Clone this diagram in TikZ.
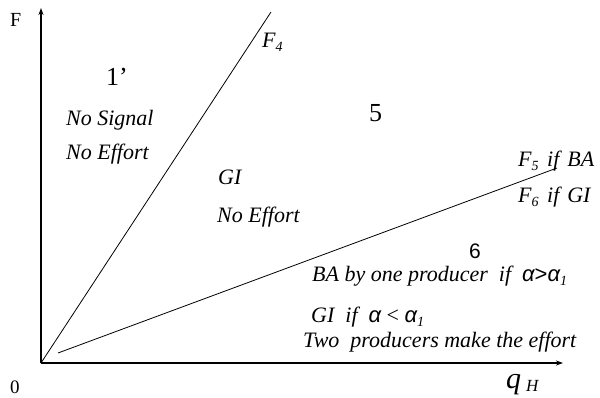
\documentclass[tikz,border=0pt]{standalone}
\usepackage{fontspec}
\setmainfont{Liberation Serif}
\newfontfamily\arial{Liberation Sans}
\usetikzlibrary{arrows.meta}
\begin{document}
\begin{tikzpicture}[x=1pt,y=-1pt,
  lbl/.style={inner sep=0pt,anchor=base west,font=\fontsize{22}{24}\selectfont\itshape},
  big/.style={inner sep=0pt,anchor=base west,font=\fontsize{26}{28}\selectfont},
  axis/.style={line width=1.8pt,-{Stealth[length=7pt,width=5pt]}},
  bound/.style={line width=0.8pt}]
\newcommand\sub[1]{\textsubscript{\fontsize{14}{16}\selectfont #1}}
\newcommand\al{{\arial\itshape α}}
\useasboundingbox (0,0) rectangle (600,398);
\coordinate (O) at (41,363);
\coordinate (ytop) at (41,8);
\coordinate (xend) at (563,363);
\coordinate (f4) at (271,12);
\coordinate (f5a) at (58,353);
\coordinate (f5b) at (557,168);
\draw[axis] (O) -- (ytop);
\draw[axis] (O) -- (xend);
\draw[bound] (O) -- (f4);
\draw[bound] (f5a) -- (f5b);
\node[inner sep=0pt,anchor=base west,font=\fontsize{20}{22}\selectfont] (Flab) at (10,27) {F};
\node[inner sep=0pt,anchor=base west,font=\fontsize{19}{21}\selectfont] (zero) at (10,393) {0};
\node[lbl] (F4) at (262,48) {F\sub{4}};
\node[big] (r1) at (106,86) {1’};
\node[lbl] (ns) at (66,126) {No Signal};
\node[lbl] (ne1) at (66,160) {No Effort};
\node[big] (r5) at (369,122) {5};
\node[lbl] (gi) at (218,185) {GI};
\node[lbl] (ne2) at (217,223) {No Effort};
\node[lbl] (F5) at (518,167) {F\sub{5}\hspace{8pt}if\hspace{8pt}BA};
\node[lbl] (F6) at (518,203) {F\sub{6}\hspace{8pt}if\hspace{8pt}GI};
\node[inner sep=0pt,anchor=base west,font=\arial\fontsize{21}{23}\selectfont] (r6) at (469,259) {6};
\node[lbl] (ba) at (312,282) {BA by one producer\ \ if\ \ \al{\arial\upshape >}\al\sub{1}};
\node[lbl] (gi2) at (311,323) {GI\ \ if\ \ \al\ {\upshape<}\ \al\sub{1}};
\node[lbl] (two) at (303,347) {Two\ \ producers make the effort};
\node[inner sep=0pt,anchor=base west,font=\fontsize{30}{32}\selectfont\itshape] (qh) at (506,388) {q\,\textsubscript{\fontsize{17}{19}\selectfont H}};
\end{tikzpicture}
\end{document}
